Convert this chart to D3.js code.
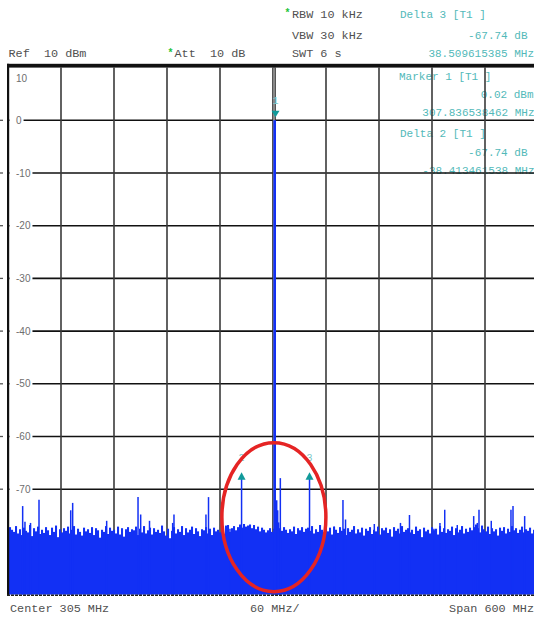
<!DOCTYPE html>
<html><head><meta charset="utf-8">
<script src="https://cdn.jsdelivr.net/npm/d3@7"></script>
<style>body{margin:0;background:#fff;}svg{display:block}text{white-space:pre}</style>
</head><body><svg id="c" width="534" height="617"></svg>
<script>
// ---- data ----
const startMHz = 5, stopMHz = 605;           // center 305 MHz, span 600 MHz
const gridFreqs = [65,125,185,245,305,365,425,485,545];
const gridLevels = [0,-10,-20,-30,-40,-50,-60,-70,-80];
const levelLabels = ["10","0","-10","-20","-30","-40","-50","-60","-70"];
const labelLevels = [10,0,-10,-20,-30,-40,-50,-60,-70];

// noise floor of the trace (dBm), equally spaced sweep points over the span
const noise = [
-78.6,-77.2,-77.7,-78.1,-77.0,-78.4,-77.6,-78.7,-77.3,-77.9,
-78.2,-76.8,-78.9,-77.4,-78.0,-77.1,-78.5,-77.7,-78.3,-77.2,
-77.8,-78.7,-77.3,-78.1,-76.9,-79.1,-77.6,-78.2,-77.4,-77.9,
-77.1,-78.4,-77.7,-77.0,-78.6,-77.5,-78.1,-78.8,-77.3,-78.0,
-77.6,-78.3,-77.2,-78.7,-77.4,-77.8,-79.2,-77.7,-78.1,-77.0,
-78.5,-77.3,-77.9,-77.7,-78.4,-77.1,-78.6,-77.4,-79.0,-77.6,
-77.2,-78.1,-77.6,-77.8,-77.1,-78.7,-77.5,-78.2,-77.0,-78.4,
-77.8,-77.3,-78.6,-77.4,-78.1,-77.7,-78.3,-76.9,-78.0,-78.8,
-77.5,-79.3,-77.9,-77.2,-78.4,-77.6,-78.1,-77.0,-78.7,-77.4,
-78.2,-77.7,-77.1,-78.5,-77.4,-78.0,-78.9,-77.6,-77.8,-77.2,
-78.4,-77.5,-78.7,-77.3,-78.0,-77.7,-78.2,-77.1,-78.6,-76.9,
-76.8,-78.1,-77.4,-77.0,-77.8,-77.2,-76.7,-77.3,-76.6,-77.1,
-76.9,-76.7,-77.4,-76.8,-77.6,-77.1,-78.0,-77.3,-77.7,-78.2,
-77.8,-77.4,-78.1,-77.5,-77.0,-76.7,-77.4,-77.9,-77.2,-77.7,
-78.3,-77.6,-78.0,-77.1,-78.5,-77.4,-77.8,-77.2,-78.1,-77.5,
-77.3,-77.9,-77.0,-78.4,-77.6,-78.1,-76.8,-77.7,-78.2,-77.4,
-78.0,-77.3,-78.6,-77.1,-77.7,-78.3,-77.2,-77.9,-77.5,-78.7,
-77.4,-78.1,-77.7,-77.0,-78.4,-77.6,-78.2,-77.3,-78.8,-77.5,
-77.9,-77.2,-78.5,-77.7,-78.0,-77.1,-78.6,-77.4,-77.8,-77.3,
-78.3,-77.6,-79.0,-77.2,-77.9,-77.5,-78.4,-77.0,-78.1,-77.7,
-77.4,-78.2,-77.7,-78.5,-77.1,-77.9,-77.6,-79.1,-77.3,-78.0,
-77.7,-78.4,-77.2,-77.8,-77.5,-78.6,-77.0,-78.1,-77.4,-78.3,
-77.6,-77.9,-77.1,-78.7,-77.4,-78.2,-77.7,-77.0,-78.4,-77.5,
-78.1,-77.3,-77.8,-77.2,-76.7,-77.4,-78.2,-76.9,-77.6,-78.0,
-77.1,-78.5,-77.4,-78.0,-77.6,-78.8,-77.3,-77.9,-77.2,-78.4,
-77.5,-78.1,-77.0,-77.8,-77.4,-78.3,-77.7,-77.1,-78.2,-77.6,
-77.9,-77.3,-78.4,-77.7,-78.0,-77.4
];

// isolated spurs / peaks: [MHz, dBm]
const spikes = [
[21.6,-73.2],[24.2,-76.2],[30.5,-76.4],[40.1,-72.0],[76.0,-74.0],[78.2,-72.6],
[116.7,-76.0],[152.2,-71.5],[155.2,-74.8],[165.2,-76.0],[191.4,-76.4],[192.9,-74.8],
[229.1,-74.8],[232.0,-71.5],[256.3,-77.5],[269.42,-67.72],
[309.2,-72.1],[310.3,-74.0],[311.4,-76.3],[313.3,-67.9],[346.35,-67.72],
[374.4,-77.1],[384.2,-72.05],[387.1,-75.75],[419.7,-76.6],[449.3,-76.4],[459.5,-74.9],
[487.2,-77.5],[494.0,-76.4],[499.4,-73.9],[513.6,-76.8],[532.2,-75.1],[536.3,-76.4],
[538.2,-73.9],[552.1,-76.0],[574.4,-73.9],[576.7,-73.2],[589.9,-75.1]
];
const carrier = [307.836538462, 0.02];

const markers = [
  {id:"1", f:307.836538462, v:0.02,   dir:"down"},
  {id:"2", f:269.423076924, v:-67.72, dir:"up"},
  {id:"3", f:346.346153847, v:-67.72, dir:"up"}
];

const headerTexts = [
  {t:"RBW 10 kHz", x:292, y:17.5},
  {t:"VBW 30 kHz", x:292, y:39},
  {t:"SWT 6 s",    x:292, y:57},
  {t:"Ref  10 dBm",x:8.5, y:57},
  {t:"Att  10 dB", x:174.5, y:57}
];
const stars = [{x:284.5, y:16}, {x:167.5, y:56}];
const readoutTexts = [
  {t:"Delta 3 [T1 ]", x:400, y:17.5, a:"start"},
  {t:"-67.74 dB", x:527.5, y:39, a:"end"},
  {t:"38.509615385 MHz", x:534, y:57, a:"end"},
  {t:"Marker 1 [T1 ]", x:399, y:80, a:"start"},
  {t:"0.02 dBm", x:533.5, y:97.5, a:"end"},
  {t:"307.836538462 MHz", x:534.5, y:115.5, a:"end"},
  {t:"Delta 2 [T1 ]", x:400, y:136.5, a:"start"},
  {t:"-67.74 dB", x:527.5, y:155.5, a:"end"},
  {t:"-38.413461538 MHz", x:534.5, y:174, a:"end"}
];
const footerTexts = [
  {t:"Center 305 MHz", x:10, y:612, a:"start"},
  {t:"60 MHz/", x:250, y:612, a:"start"},
  {t:"Span 600 MHz", x:534, y:612, a:"end"}
];

// ---- drawing ----
const svg = d3.select("#c");
const x = d3.scaleLinear().domain([startMHz, stopMHz]).range([8, 538]);
const y = d3.scaleLinear().domain([-90, 10]).range([594.6, 67.6]);
const mono = "'Liberation Mono','DejaVu Sans Mono',monospace";
const BLUE = "#1230f4";

svg.append("rect").attr("width",534).attr("height",617).attr("fill","#fff");

svg.selectAll(".hdr").data(headerTexts).enter().append("text")
  .attr("x",d=>d.x).attr("y",d=>d.y).text(d=>d.t)
  .attr("font-family",mono).attr("font-size",11.8).attr("fill","#505050");
svg.selectAll(".star").data(stars).enter().append("text")
  .attr("x",d=>d.x).attr("y",d=>d.y).text("*")
  .attr("font-family",mono).attr("font-size",10).attr("fill","#22c33a").attr("font-weight","bold");
svg.selectAll(".ro").data(readoutTexts).enter().append("text")
  .attr("x",d=>d.x).attr("y",d=>d.y).text(d=>d.t).attr("text-anchor",d=>d.a)
  .attr("font-family",mono).attr("font-size",11).attr("fill","#52b9b9");
svg.selectAll(".ft").data(footerTexts).enter().append("text")
  .attr("x",d=>d.x).attr("y",d=>d.y).text(d=>d.t).attr("text-anchor",d=>d.a)
  .attr("font-family",mono).attr("font-size",11.8).attr("fill","#505050");

// grid
const g = svg.append("g");
g.selectAll(".hl").data(gridLevels).enter().append("line")
  .attr("x1",x(startMHz)).attr("x2",x(stopMHz)).attr("y1",d=>y(d)).attr("y2",d=>y(d))
  .attr("stroke","#111").attr("stroke-width",1.6);
g.selectAll(".vl").data(gridFreqs.filter(f=>f!==305)).enter().append("line")
  .attr("x1",d=>x(d)).attr("x2",d=>x(d)).attr("y1",y(10)).attr("y2",y(-90))
  .attr("stroke","#3a3a3a").attr("stroke-width",1.6);
// centre line (drawn double)
g.append("line").attr("x1",x(305)+1).attr("x2",x(305)+1).attr("y1",y(10)).attr("y2",y(-90))
  .attr("stroke","#2a2a2a").attr("stroke-width",3.6);
g.append("line").attr("x1",x(305)+1).attr("x2",x(305)+1).attr("y1",y(10)).attr("y2",y(-90))
  .attr("stroke","#c8c8c8").attr("stroke-width",1.2);

// y labels with white background, outer ticks
const lab = svg.append("g");
labelLevels.forEach((lv,i)=>{
  const yy = lv===10 ? y(10)+14.5 : y(lv)+3.5;
  const t = lab.append("text").attr("x",16).attr("y",yy).text(levelLabels[i])
    .attr("font-family","'Liberation Sans',Arial,sans-serif").attr("font-size",10)
    .attr("fill","#6e6e6e");
  if (lv!==10){
    const w = t.node().getComputedTextLength();
    lab.insert("rect","text").attr("x",9.5).attr("y",y(lv)-2).attr("width",16+w+2-9.5).attr("height",4).attr("fill","#fff");
    lab.append("line").attr("x1",0).attr("x2",3).attr("y1",y(lv)).attr("y2",y(lv))
      .attr("stroke","#555").attr("stroke-width",1.3);
  }
});

// trace
const step = (stopMHz-startMHz)/(noise.length-1);
const tr = svg.append("g");
tr.selectAll(".nb").data(noise).enter().append("rect")
  .attr("x",(d,i)=>x(startMHz+i*step)-1).attr("width",2.05)
  .attr("y",d=>y(d)).attr("height",d=>y(-90)-y(d)).attr("fill",BLUE);
tr.selectAll(".sp").data(spikes).enter().append("line")
  .attr("x1",d=>x(d[0])).attr("x2",d=>x(d[0])).attr("y1",y(-90)).attr("y2",d=>y(d[1]))
  .attr("stroke",BLUE).attr("stroke-width",1.5);
tr.append("line").attr("x1",x(carrier[0])-0.8).attr("x2",x(carrier[0])-0.8)
  .attr("y1",y(-90)).attr("y2",y(carrier[1])).attr("stroke",BLUE).attr("stroke-width",2.6);

// markers
const mk = svg.append("g");
markers.forEach(m=>{
  const cx = x(m.f), cy = y(m.v);
  const pts = m.dir==="down"
    ? [[cx-4,cy-9.5],[cx+4,cy-9.5],[cx,cy-3]]
    : [[cx-4,cy+2.5],[cx+4,cy+2.5],[cx,cy-5]];
  mk.append("polygon").attr("points",pts.map(p=>p.join(",")).join(" ")).attr("fill","#119a9a");
  mk.append("text").attr("x",cx).attr("y",cy-16.5).attr("text-anchor","middle").text(m.id)
    .attr("font-family",mono).attr("font-size",10).attr("fill","#7cc8c8");
});

// frame
const fr = svg.append("g");
fr.append("rect").attr("x",7).attr("y",y(10)-3.8).attr("width",534-7).attr("height",3.8).attr("fill","#111");
fr.append("rect").attr("x",7).attr("y",y(10)-3.8).attr("width",2.2).attr("height",y(-90)-y(10)+4.5).attr("fill","#111");
fr.append("line").attr("x1",7).attr("x2",534).attr("y1",y(-90)+0.6).attr("y2",y(-90)+0.6)
  .attr("stroke","#222").attr("stroke-width",1.6).attr("stroke-dasharray","3,1");

// highlight ellipse
svg.append("ellipse").attr("cx",x(306)).attr("cy",y(-75.3)).attr("rx",52).attr("ry",74.5)
  .attr("fill","none").attr("stroke","#e52424").attr("stroke-width",3.5);
</script></body></html>
